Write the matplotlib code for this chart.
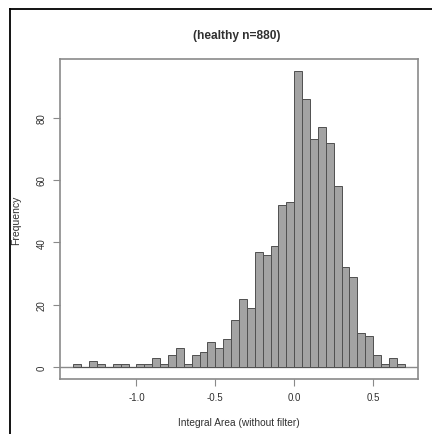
import numpy as np
import matplotlib
matplotlib.use("Agg")
import matplotlib.pyplot as plt
from matplotlib.lines import Line2D

plt.rcParams['font.family'] = ['Liberation Sans', 'DejaVu Sans']

# histogram: 0.05 wide bins starting at -1.40, counts
bin_start = -1.40
bin_width = 0.05
counts = [1, 0, 2, 1, 0, 1, 1, 0, 1, 1,
          3, 1, 4, 6, 1, 4, 5, 8, 6, 9,
          15, 22, 19, 37, 36, 39, 52, 53, 95, 86,
          73, 77, 72, 58, 32, 29, 11, 10, 4, 1,
          3, 1]
x_ticks = [-1.0, -0.5, 0.0, 0.5]
x_tick_labels = ["-1.0", "-0.5", "0.0", "0.5"]
y_ticks = [0, 20, 40, 60, 80]
title = "(healthy n=880)"
x_label = "Integral Area (without filter)"
y_label = "Frequency"

BAR_FILL = "#a3a3a3"
BAR_EDGE = "#505050"
BOX_GREY = "#8a8a8a"
TEXT = "#303030"

fig = plt.figure(figsize=(4.32, 4.35), dpi=100)
ax = fig.add_axes([60 / 432, 55 / 435, 358 / 432, 320 / 435])

edges = bin_start + bin_width * np.arange(len(counts))
ax.bar(edges, counts, width=bin_width, align="edge",
       color=BAR_FILL, edgecolor=BAR_EDGE, linewidth=0.7)
ax.axhline(0, color=BOX_GREY, linewidth=1.0, zorder=0)

# R style 4% padding around the data range
lo, hi = edges[0], edges[-1] + bin_width
pad = (hi - lo) * 0.04
ax.set_xlim(lo - pad, hi + pad)
ax.set_ylim(-max(counts) * 0.04, max(counts) * 1.04)

ax.set_xticks(x_ticks)
ax.set_xticklabels(x_tick_labels)
ax.set_yticks(y_ticks)
ax.set_yticklabels([str(v) for v in y_ticks], rotation=90, va="center")
ax.tick_params(direction="out", length=5, width=0.8, color=BOX_GREY,
               labelsize=7, labelcolor=TEXT, pad=4.5)

for s in ax.spines.values():
    s.set_color(BOX_GREY)
    s.set_linewidth(1.2)

fig.text(237 / 432, 1 - 36 / 435, title, ha="center", va="center",
         fontsize=8.6, fontweight="bold", color=TEXT)
fig.text(239 / 432, 1 - 423 / 435, x_label, ha="center", va="center",
         fontsize=7.3, color=TEXT)
fig.text(16 / 432, 1 - 220 / 435, y_label, ha="center", va="center",
         fontsize=7.5, rotation=90, color=TEXT)

# outer frame, only its left and top edges fall inside the image
fig.add_artist(Line2D([9.5 / 432, 9.5 / 432], [0, 1 - 9.5 / 435],
                      transform=fig.transFigure, color="black", linewidth=1.3))
fig.add_artist(Line2D([9.5 / 432, 1], [1 - 9.5 / 435, 1 - 9.5 / 435],
                      transform=fig.transFigure, color="black", linewidth=1.3))

fig.savefig("out.png", dpi=100)
